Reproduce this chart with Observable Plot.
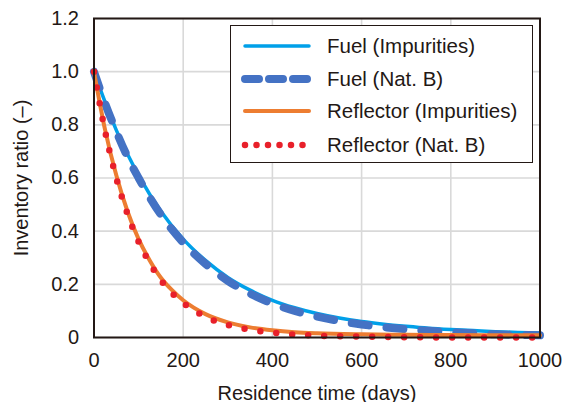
<!DOCTYPE html>
<html>
<head>
<meta charset="utf-8">
<script src="https://cdn.jsdelivr.net/npm/d3@7"></script>
<script src="https://cdn.jsdelivr.net/npm/@observablehq/plot@0.6"></script>
<style>
  html, body { margin: 0; padding: 0; background: #fff; }
  #wrap { position: relative; width: 565px; height: 402px; overflow: hidden; font-family: "Liberation Sans", Arial, sans-serif; }
  #legend { position: absolute; left: 230px; top: 25px; width: 303px; height: 138px; border: 1.6px solid #231815; background: #fff; box-sizing: border-box; }
  .item { position: absolute; left: 0; height: 30px; display: flex; align-items: center; }
  .item svg { margin-left: 10px; }
  .item span { margin-left: 14px; font-size: 20.5px; color: #231815; white-space: nowrap; }
</style>
</head>
<body>
<div id="wrap"></div>
<script>
const timeFuel = [0, 25, 50, 75, 100, 150, 200, 250, 300, 350, 400, 450, 500, 550, 600, 650, 700, 750, 800, 850, 900, 950, 1000];
const fuelImp  = [1.0, 0.885, 0.78, 0.69, 0.61, 0.475, 0.37, 0.29, 0.226, 0.178, 0.14, 0.112, 0.09, 0.073, 0.06, 0.05, 0.042, 0.035, 0.03, 0.026, 0.022, 0.019, 0.017];
const fuelNat  = [1.0, 0.88, 0.775, 0.68, 0.6, 0.462, 0.357, 0.277, 0.213, 0.165, 0.128, 0.1, 0.079, 0.062, 0.049, 0.039, 0.031, 0.025, 0.02, 0.016, 0.012, 0.01, 0.008];
const timeRefl = [0, 25, 50, 75, 100, 125, 150, 175, 200, 250, 300, 350, 400, 450, 500, 600, 700, 800, 900, 1000];
const reflImp  = [1.0, 0.78, 0.61, 0.475, 0.37, 0.29, 0.225, 0.178, 0.14, 0.088, 0.057, 0.038, 0.027, 0.02, 0.016, 0.012, 0.01, 0.009, 0.008, 0.008];
const reflNat  = [1.0, 0.775, 0.6, 0.465, 0.36, 0.28, 0.215, 0.167, 0.13, 0.078, 0.047, 0.029, 0.018, 0.011, 0.007, 0.003, 0.001, 0.0, 0.0, 0.0];
const seriesNames = ["Fuel (Impurities)", "Fuel (Nat. B)", "Reflector (Impurities)", "Reflector (Nat. B)"];
const xTicks = [0, 200, 400, 600, 800, 1000];
const yTicks = [0, 0.2, 0.4, 0.6, 0.8, 1.0, 1.2];

const toRows = (xs, ys) => xs.map((x, i) => ({x, y: ys[i]}));
const fI = toRows(timeFuel, fuelImp);
const fN = toRows(timeFuel, fuelNat);
const rI = toRows(timeRefl, reflImp);
const rN = toRows(timeRefl, reflNat);

const styles = [
  {stroke: "#00a0e9", strokeWidth: 3.5},
  {stroke: "#4472c4", strokeWidth: 8, strokeDasharray: "17,18", strokeLinecap: "round"},
  {stroke: "#ed7d31", strokeWidth: 4},
  {stroke: "#e8202a", strokeWidth: 6.5, strokeDasharray: "0,16", strokeLinecap: "round"}
];

const chart = Plot.plot({
  width: 565,
  height: 402,
  marginLeft: 93.5,
  marginRight: 25.5,
  marginTop: 18,
  marginBottom: 65,
  style: {fontFamily: "'Liberation Sans', Arial, sans-serif", fontSize: "20px", color: "#231815", background: "#fff"},
  x: {domain: [0, 1000], ticks: xTicks, tickSize: 0, tickPadding: 15, tickFormat: "d", label: "Residence time (days)", labelAnchor: "center", labelOffset: 62, labelArrow: "none"},
  y: {domain: [0, 1.2], ticks: yTicks, tickSize: 0, tickPadding: 15, label: "Inventory ratio (–)", labelAnchor: "center", labelOffset: 80, labelArrow: "none", tickFormat: d => d === 0 ? "0" : d.toFixed(1)},
  marks: [
    Plot.gridX(xTicks, {stroke: "#d9d9d9", strokeOpacity: 1, strokeWidth: 1.6}),
    Plot.gridY(yTicks, {stroke: "#d9d9d9", strokeOpacity: 1, strokeWidth: 1.6}),
    Plot.line(fI, {x: "x", y: "y", curve: "monotone-x", ...styles[0]}),
    Plot.line(fN, {x: "x", y: "y", curve: "monotone-x", ...styles[1]}),
    Plot.line(rI, {x: "x", y: "y", curve: "monotone-x", ...styles[2]}),
    Plot.line(rN, {x: "x", y: "y", curve: "monotone-x", ...styles[3]}),
    Plot.frame({stroke: "#231815", strokeWidth: 2})
  ]
});
d3.select(chart).selectAll("text").style("font-size", "20px").attr("fill", "#231815");
const wrap = document.getElementById("wrap");
wrap.appendChild(chart);

// Legend
const legend = document.createElement("div");
legend.id = "legend";
const rowsY = [5, 38, 70, 104];
seriesNames.forEach((name, i) => {
  const it = document.createElement("div");
  it.className = "item";
  it.style.top = rowsY[i] + "px";
  const s = styles[i];
  const svg = d3.create("svg").attr("width", 72).attr("height", 30);
  svg.append("line").attr("x1", 4).attr("x2", 68).attr("y1", 15).attr("y2", 15)
    .attr("stroke", s.stroke).attr("stroke-width", s.strokeWidth)
    .attr("stroke-dasharray", i === 1 ? "14,10" : (i === 3 ? "0,11.5" : null))
    .attr("stroke-linecap", s.strokeLinecap || (i % 2 === 0 ? "round" : null));
  it.appendChild(svg.node());
  const sp = document.createElement("span");
  sp.textContent = name;
  it.appendChild(sp);
  legend.appendChild(it);
});
wrap.appendChild(legend);
</script>
</body>
</html>
